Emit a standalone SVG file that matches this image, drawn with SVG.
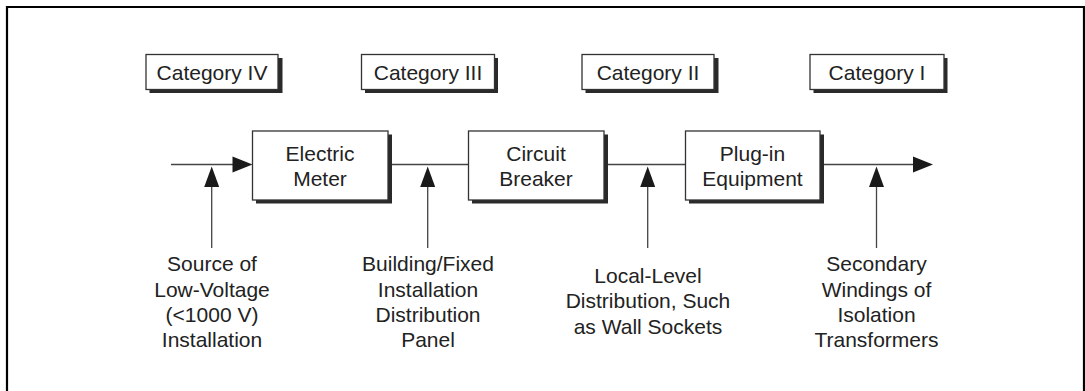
<svg xmlns="http://www.w3.org/2000/svg" width="1085" height="391" viewBox="0 0 1085 391">
<style>
  .frame{fill:none;stroke:#000;stroke-width:2.2}
  .shadow{fill:#2a2a2a}
  .box{fill:#fff;stroke:#333;stroke-width:1.3}
  .t{font-family:"Liberation Sans",Arial,sans-serif;font-size:21px;fill:#222;text-anchor:middle}
  .ln{fill:none;stroke:#444;stroke-width:1.3}
  .ah{fill:#1a1a1a}
</style>
<rect width="1085" height="391" fill="#fff"/>
<path class="frame" d="M7,391 V7 H1084 V391"/>

<g id="cat4"><rect class="shadow" x="149.5" y="58" width="133" height="35"/><rect class="box" x="146" y="54.5" width="132" height="35"/><text class="t" x="212" y="79.5">Category IV</text></g>
<g id="cat3"><rect class="shadow" x="365" y="58" width="133" height="35"/><rect class="box" x="361.5" y="54.5" width="133" height="35"/><text class="t" x="428" y="79.5">Category III</text></g>
<g id="cat2"><rect class="shadow" x="585.5" y="58" width="133" height="35"/><rect class="box" x="582" y="54.5" width="132" height="35"/><text class="t" x="648" y="79.5">Category II</text></g>
<g id="cat1"><rect class="shadow" x="813.5" y="58" width="134" height="35"/><rect class="box" x="810" y="54.5" width="134" height="35"/><text class="t" x="877" y="79.5">Category I</text></g>

<g id="connectors">
  <path class="ln" d="M171,164.5 H234"/>
  <path class="ah" d="M232.5,156.5 L252.5,164.5 L232.5,172.5 Z"/>
  <path class="ln" d="M388,164.5 H468"/>
  <path class="ln" d="M604,164.5 H685"/>
  <path class="ln" d="M820,164.5 H915"/>
  <path class="ah" d="M913,156.5 L933,164.5 L913,172.5 Z"/>
  <path class="ln" d="M211.7,185 V248"/>
  <path class="ah" d="M204.2,187 L211.7,166.5 L219.2,187 Z"/>
  <path class="ln" d="M427.7,185 V248"/>
  <path class="ah" d="M420.2,187 L427.7,166.5 L435.2,187 Z"/>
  <path class="ln" d="M647.7,185 V248"/>
  <path class="ah" d="M640.2,187 L647.7,166.5 L655.2,187 Z"/>
  <path class="ln" d="M876.5,185 V248"/>
  <path class="ah" d="M869,187 L876.5,166.5 L884,187 Z"/>
</g>

<g id="meter"><rect class="shadow" x="256" y="134.5" width="136" height="69"/><rect class="box" x="252.5" y="131" width="135.5" height="69"/><text class="t" x="320" y="160.7">Electric</text><text class="t" x="320" y="185.7">Meter</text></g>
<g id="breaker"><rect class="shadow" x="472" y="134.5" width="136" height="69"/><rect class="box" x="468.5" y="131" width="135.5" height="69"/><text class="t" x="536" y="160.7">Circuit</text><text class="t" x="536" y="185.7">Breaker</text></g>
<g id="plugin"><rect class="shadow" x="689" y="134.5" width="135" height="69"/><rect class="box" x="685.5" y="131" width="134.5" height="69"/><text class="t" x="752.5" y="160.7">Plug-in</text><text class="t" x="752.5" y="185.7">Equipment</text></g>

<g id="label-source"><text class="t" x="212" y="271.3">Source of</text><text class="t" x="212" y="296.5">Low-Voltage</text><text class="t" x="212" y="321.7">(&lt;1000 V)</text><text class="t" x="212" y="346.9">Installation</text></g>
<g id="label-building"><text class="t" x="428" y="271.3">Building/Fixed</text><text class="t" x="428" y="296.5">Installation</text><text class="t" x="428" y="321.7">Distribution</text><text class="t" x="428" y="346.9">Panel</text></g>
<g id="label-local"><text class="t" x="648" y="283">Local-Level</text><text class="t" x="648" y="308.3">Distribution, Such</text><text class="t" x="648" y="333.5">as Wall Sockets</text></g>
<g id="label-secondary"><text class="t" x="876.5" y="271.3">Secondary</text><text class="t" x="876.5" y="296.5">Windings of</text><text class="t" x="876.5" y="321.7">Isolation</text><text class="t" x="876.5" y="346.9">Transformers</text></g>
</svg>
